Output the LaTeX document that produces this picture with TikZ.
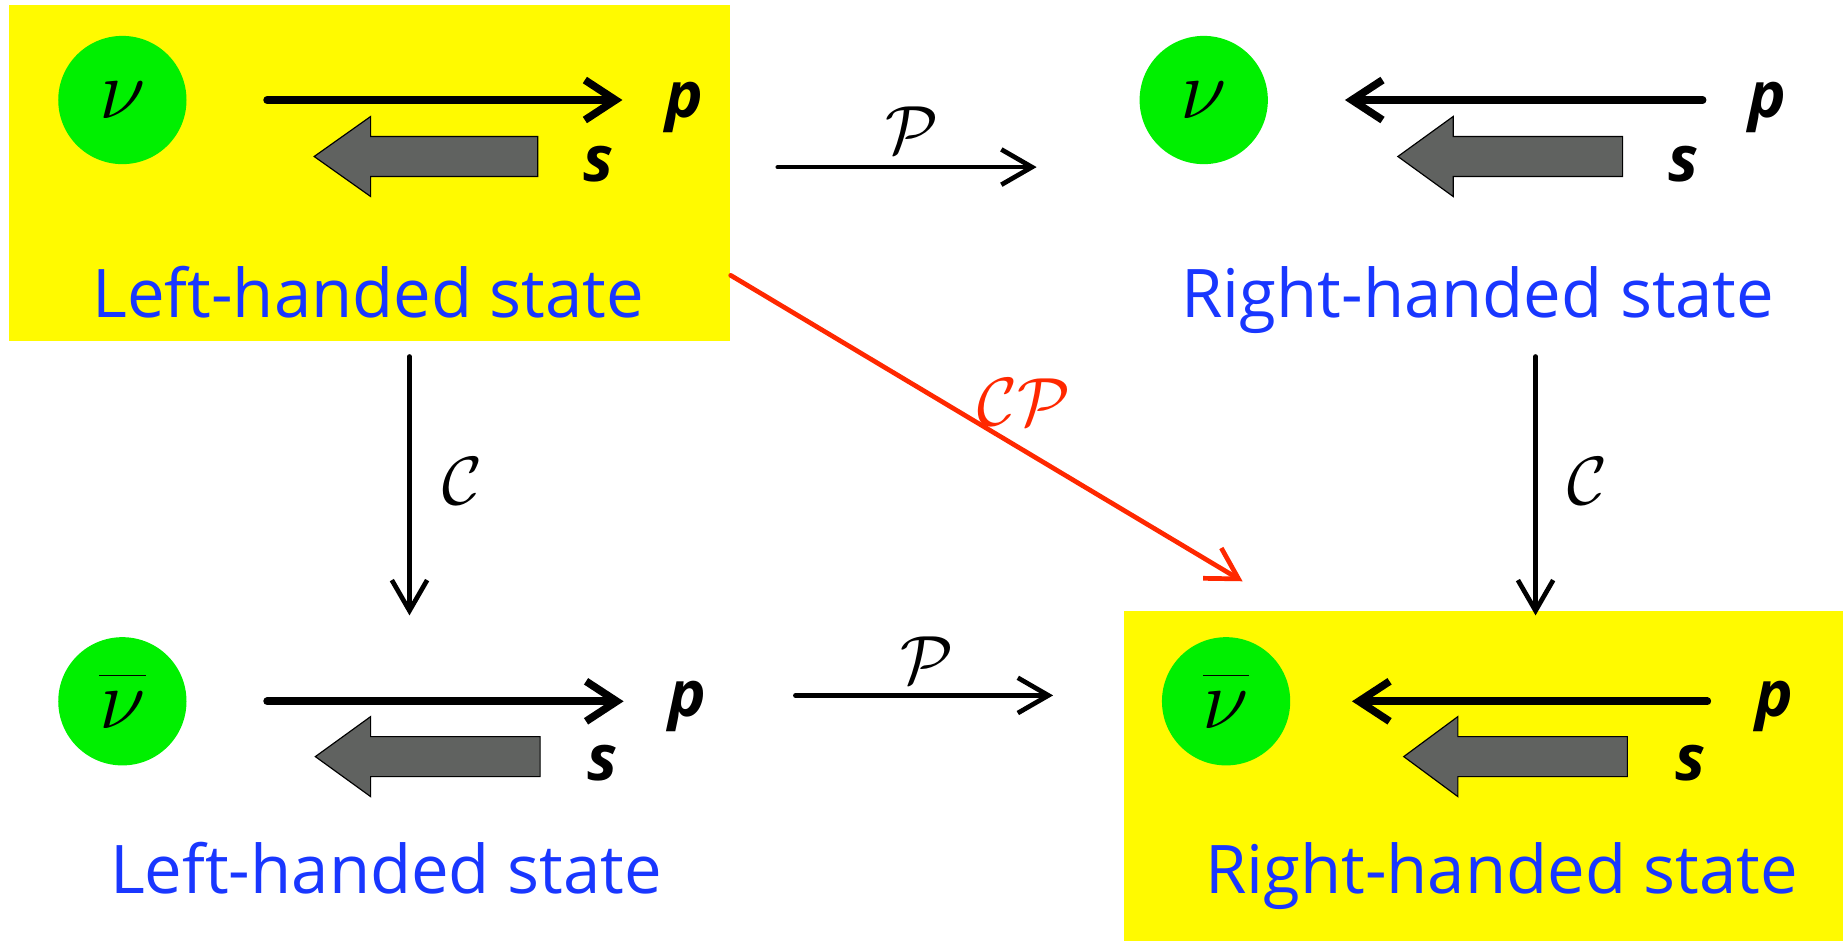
\documentclass[tikz,border=0pt]{standalone}
\usepackage{fix-cm}
\usepackage{fontspec}
\setmainfont{Open Sans}
\usetikzlibrary{arrows.meta}
\definecolor{boxyellow}{RGB}{255,250,0}
\definecolor{nugreen}{RGB}{0,240,0}
\definecolor{spingray}{RGB}{96,98,96}
\definecolor{stateblue}{RGB}{25,55,255}
\definecolor{cpred}{RGB}{255,40,0}
\tikzset{
  neutrino/.style={circle, fill=nugreen, minimum size=109pt, inner sep=0pt, font=\fontsize{72}{76}\selectfont},
  momentum/.style={line width=6.5pt, line cap=round, -{Straight Barb[length=26pt, width=34pt]}},
  spinarrow/.style={fill=spingray, draw=black, line width=1pt, line join=miter},
  veclabel/.style={font=\fontsize{54}{60}\selectfont\bfseries\itshape, anchor=base},
  statetext/.style={text=stateblue, font=\fontsize{57}{60}\selectfont, anchor=base},
  opArrow/.style={line width=4pt, -{Straight Barb[length=26pt, width=30pt]}},
  oplabel/.style={font=\fontsize{58}{60}\selectfont}
}
\begin{document}
\begin{tikzpicture}[x=1pt, y=-1pt, line join=round, line cap=round]
	\useasboundingbox (0,0) rectangle (1568,801);
	% 1. Yellow highlight boxes (left-handed nu, right-handed anti-nu)
	\fill[boxyellow] (8,4) rectangle (620,290);
	\fill[boxyellow] (955,519) rectangle (1566,800);
	
	% 2. Top left: left-handed neutrino
	\node[neutrino] (nuTL) at (104,85) {$\nu$};
	\draw[momentum] (227,85) -- (529,85);
	\node[veclabel] (pTL) at (582,100) {p};
	\draw[spinarrow] (267,133) -- ++(48,-34) -- ++(0,17) -- ++(142,0) -- ++(0,34) -- ++(-142,0) -- ++(0,17) -- cycle;
	\node[veclabel] (sTL) at (509,154) {s};
	\node[statetext] (lblTL) at (313,270) {Left-handed state};
	
	% 3. Top right: right-handed neutrino
	\node[neutrino] (nuTR) at (1023,85) {$\nu$};
	\draw[momentum] (1447,85) -- (1143,85);
	\node[veclabel] (pTR) at (1502,100) {p};
	\draw[spinarrow] (1188,133) -- ++(47,-34) -- ++(0,17) -- ++(144,0) -- ++(0,34) -- ++(-144,0) -- ++(0,17) -- cycle;
	\node[veclabel] (sTR) at (1431,154) {s};
	\node[statetext] (lblTR) at (1256,270) {Right-handed state};
	
	% 4. Bottom left: left-handed anti-neutrino
	\node[neutrino] (nuBL) at (104,596) {$\overline{\vphantom{t}\nu}$};
	\draw[momentum] (227,596) -- (530,596);
	\node[veclabel] (pBL) at (584,609) {p};
	\draw[spinarrow] (268,643) -- ++(47,-34) -- ++(0,17) -- ++(144,0) -- ++(0,34) -- ++(-144,0) -- ++(0,17) -- cycle;
	\node[veclabel] (sBL) at (512,663) {s};
	\node[statetext] (lblBL) at (328,759) {Left-handed state};
	
	% 5. Bottom right: right-handed anti-neutrino
	\node[neutrino] (nuBR) at (1042,596) {$\overline{\vphantom{t}\nu}$};
	\draw[momentum] (1451,596) -- (1149,596);
	\node[veclabel] (pBR) at (1508,609) {p};
	\draw[spinarrow] (1193,643) -- ++(46,-34) -- ++(0,17) -- ++(144,0) -- ++(0,34) -- ++(-144,0) -- ++(0,17) -- cycle;
	\node[veclabel] (sBR) at (1437,663) {s};
	\node[statetext] (lblBR) at (1276,759) {Right-handed state};
	
	% 6. Transformations P, C and CP
	\coordinate (pTopA) at (661,142);
	\coordinate (pTopB) at (881,142);
	\coordinate (pBotA) at (676,591);
	\coordinate (pBotB) at (895,591);
	\coordinate (cLeftA) at (348,303);
	\coordinate (cLeftB) at (348,523);
	\coordinate (cRightA) at (1305,303);
	\coordinate (cRightB) at (1305,523);
	\coordinate (cpA) at (621,234);
	\coordinate (cpB) at (1056,494);
	
	\draw[opArrow] (pTopA) -- (pTopB);
	\node[oplabel] (opPTop) at (775,111) {$\mathcal{P}$};
	\draw[opArrow] (pBotA) -- (pBotB);
	\node[oplabel] (opPBot) at (788,561) {$\mathcal{P}$};
	\draw[opArrow] (cLeftA) -- (cLeftB);
	\node[oplabel] (opCLeft) at (393,409) {$\mathcal{C}$};
	\draw[opArrow] (cRightA) -- (cRightB);
	\node[oplabel] (opCRight) at (1349,409) {$\mathcal{C}$};
	\draw[opArrow, cpred] (cpA) -- (cpB);
	\node[oplabel, text=cpred] (opCP) at (870,342) {$\mathcal{CP}$};
\end{tikzpicture}
\end{document}
